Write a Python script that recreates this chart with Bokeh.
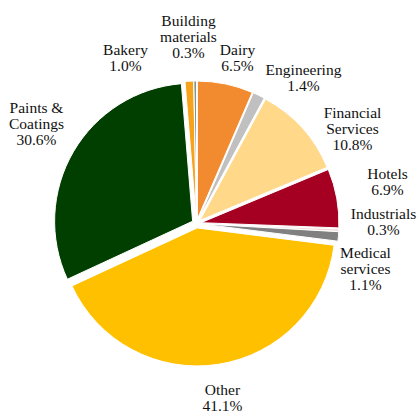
import numpy as np
from bokeh.plotting import figure
from bokeh.models import Range1d, ColumnDataSource, Label
from bokeh.embed import file_html
from bokeh.resources import INLINE

categories = ["Bakery", "Building materials", "Dairy", "Engineering", "Financial Services",
              "Hotels", "Industrials", "Medical services", "Other", "Paints & Coatings"]
shares = [1.0, 0.3, 6.5, 1.4, 10.8, 6.9, 0.3, 1.1, 41.1, 30.6]
colors = ["#F7A21B", "#7F8F7F", "#F28A30", "#C0C0C0", "#FFD88A",
          "#A50021", "#F2DCDB", "#808080", "#FFC000", "#003F00"]
label_texts = ["Bakery", "Building\nmaterials", "Dairy", "Engineering", "Financial\nServices",
               "Hotels", "Industrials", "Medical\nservices", "Other", "Paints &\nCoatings"]

# layout (screen pixels)
W, H = 417, 415
CX, CY = 196, 223
R = 138
EXPLODE = 4.5
START_OFFSET = 1.3  # percent of circle before 12 o'clock where first slice starts
LINE_H = 16
label_pos = [(125, 57), (188, 36), (237, 57), (303, 77), (352, 128),
             (387, 181), (383, 221), (365, 268), (222, 397), (36, 123)]

vals = np.array(shares, dtype=float)
frac = vals / vals.sum()
cum = np.concatenate([[0], np.cumsum(frac)])
start = np.pi / 2 + START_OFFSET / 100 * 2 * np.pi - cum[:-1] * 2 * np.pi
end = np.pi / 2 + START_OFFSET / 100 * 2 * np.pi - cum[1:] * 2 * np.pi
mid = (start + end) / 2
xs = CX + EXPLODE * np.cos(mid)
ys = (H - CY) + EXPLODE * np.sin(mid)

src = ColumnDataSource(dict(x=xs, y=ys, start=start, end=end, color=colors))

p = figure(width=W, height=H, output_backend="svg", toolbar_location=None,
           x_range=Range1d(0, W), y_range=Range1d(0, H), min_border=0)
p.axis.visible = False
p.grid.visible = False
p.outline_line_color = None
p.background_fill_color = "white"
p.border_fill_color = "white"

p.wedge(x="x", y="y", radius=R, start_angle="start", end_angle="end", direction="clock",
        fill_color="color", line_color="white", line_width=1, source=src)

for (lx, ly), t, s in zip(label_pos, label_texts, shares):
    lines = t.split("\n") + [f"{s:.1f}%"]
    n = len(lines)
    for i, line in enumerate(lines):
        p.add_layout(Label(x=lx, y=H - (ly + (i - (n - 1) / 2) * LINE_H), text=line,
                           text_align="center", text_baseline="middle",
                           text_font="Liberation Serif", text_font_size="15.5px",
                           text_color="#111111"))

open("out.html", "w").write(file_html(p, INLINE))
